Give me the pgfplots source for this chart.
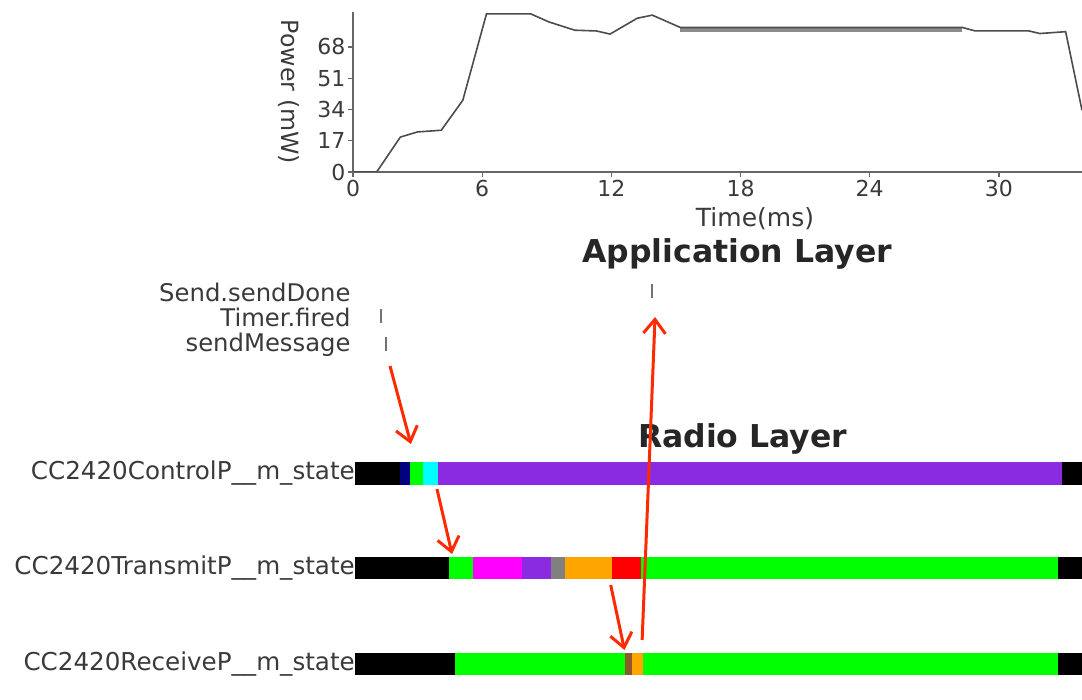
\documentclass[border=0pt]{standalone}
\usepackage{pgfplots}
\pgfplotsset{compat=1.18}
\usepackage{fontspec}
\setmainfont{DejaVu Sans}
\usetikzlibrary{arrows.meta}
\definecolor{arr}{HTML}{FF2A00}
\definecolor{bviolet}{HTML}{8A2BE2}
\definecolor{lime}{HTML}{00FF00}
\definecolor{navyc}{HTML}{000080}
\definecolor{orangec}{HTML}{FFA500}
\definecolor{cyanc}{HTML}{00FFFF}
\definecolor{magc}{HTML}{FF00FF}
\definecolor{redc}{HTML}{FF0000}
\definecolor{grayc}{HTML}{808080}
\definecolor{brownc}{HTML}{8B5A2B}
\definecolor{txt}{HTML}{3A3A3A}
\begin{document}
\begin{tikzpicture}[x=1pt,y=1pt]
\path[use as bounding box] (0,0) rectangle (1082,-700);
% ---------------- power plot ----------------
\begin{axis}[
  at={(353pt,-172pt)}, anchor=south west,
  scale only axis, width=729pt, height=160pt,
  xmin=0, xmax=33.86, ymin=0, ymax=87,
  axis lines=left, axis line style={-, draw=black!60, line width=1.8pt},
  xtick={0,6,...,30}, ytick={0,17,34,51,68},
  tick align=outside, major tick length=5pt,
  tick style={black!60, line width=1.2pt},
  ticklabel style={font=\fontsize{22}{26}\selectfont, text=txt},
  /pgf/number format/assume math mode=true,
  xticklabel style={yshift=0pt},
  yticklabel style={xshift=1pt},
]
\addplot[fill=black!45, draw=none] coordinates {(15.2,76.0) (28.3,76.0) (28.3,79.0) (15.2,79.0)};
\addplot[black!70, line width=1.6pt] coordinates {
(0,0) (1.1,0) (2.2,19) (3.0,21.8) (4.1,22.7) (5.1,39) (6.2,86) (8.25,86)
(9.1,81.6) (10.3,77.1) (11.3,76.7) (11.94,75.0) (13.2,83.6) (13.9,85.3)
(15.2,78.6) (28.3,78.6) (28.9,76.7) (31.4,76.7) (31.9,75.3) (33.1,76.3) (33.86,33.6)};
\end{axis}
\node[text=txt, font=\fontsize{25}{28}\selectfont] at (755,-219) {Time(ms)};
\node[text=txt, font=\fontsize{23.7}{26}\selectfont, rotate=-90] at (289,-92) {Power (mW)};
% ---------------- application + radio layers ----------------
\begin{axis}[
  at={(353pt,-230pt)}, anchor=north west,
  scale only axis, width=729pt, height=470pt,
  xmin=0, xmax=33.86, ymin=230, ymax=700, y dir=reverse,
  hide axis, clip=false,
]
% titles
\node[text=black!85, font=\bfseries\fontsize{31.5}{36}\selectfont] at (axis cs:17.84,254) {Application Layer};
\node[text=black!85, font=\bfseries\fontsize{31.5}{36}\selectfont] at (axis cs:18.1,439) {Radio Layer};
% application events
\node[anchor=east, text=txt, font=\fontsize{24.3}{28}\selectfont] at (axis cs:0.05,292) {Send.sendDone};
\node[anchor=east, text=txt, font=\fontsize{24.3}{28}\selectfont] at (axis cs:0.05,317) {Timer.fired};
\node[anchor=east, text=txt, font=\fontsize{24.3}{28}\selectfont] at (axis cs:0.05,345) {sendMessage};
\addplot[only marks, mark=|, mark size=7pt, mark options={draw=black!55, line width=2.2pt}] coordinates {(13.9,291) (1.3,316) (1.53,344)};
% row labels
\node[anchor=east, text=txt, font=\fontsize{24.6}{28}\selectfont] at (axis cs:0.25,473.5) {CC2420ControlP\_\_m\_state};
\node[anchor=east, text=txt, font=\fontsize{24.6}{28}\selectfont] at (axis cs:0.25,568) {CC2420TransmitP\_\_m\_state};
\node[anchor=east, text=txt, font=\fontsize{24.6}{28}\selectfont] at (axis cs:0.25,664) {CC2420ReceiveP\_\_m\_state};
% row 1: ControlP
\addplot[black, line width=23pt] coordinates {(0.1,473.5) (2.18,473.5)};
\addplot[navyc, line width=23pt] coordinates {(2.18,473.5) (2.65,473.5)};
\addplot[lime, line width=23pt] coordinates {(2.65,473.5) (3.25,473.5)};
\addplot[cyanc, line width=23pt] coordinates {(3.25,473.5) (3.95,473.5)};
\addplot[bviolet, line width=23pt] coordinates {(3.95,473.5) (32.93,473.5)};
\addplot[black, line width=23pt] coordinates {(32.93,473.5) (33.86,473.5)};
% row 2: TransmitP
\addplot[black, line width=22pt] coordinates {(0.1,568) (4.46,568)};
\addplot[lime, line width=22pt] coordinates {(4.46,568) (5.57,568)};
\addplot[magc, line width=22pt] coordinates {(5.57,568) (7.85,568)};
\addplot[bviolet, line width=22pt] coordinates {(7.85,568) (9.2,568)};
\addplot[grayc, line width=22pt] coordinates {(9.2,568) (9.85,568)};
\addplot[orangec, line width=22pt] coordinates {(9.85,568) (12.03,568)};
\addplot[redc, line width=22pt] coordinates {(12.03,568) (13.38,568)};
\addplot[lime, line width=22pt] coordinates {(13.38,568) (32.74,568)};
\addplot[black, line width=22pt] coordinates {(32.74,568) (33.86,568)};
% row 3: ReceiveP
\addplot[black, line width=22pt] coordinates {(0.1,664) (4.74,664)};
\addplot[lime, line width=22pt] coordinates {(4.74,664) (12.63,664)};
\addplot[brownc, line width=22pt] coordinates {(12.63,664) (12.96,664)};
\addplot[orangec, line width=22pt] coordinates {(12.96,664) (13.47,664)};
\addplot[lime, line width=22pt] coordinates {(13.47,664) (32.74,664)};
\addplot[black, line width=22pt] coordinates {(32.74,664) (33.86,664)};
% red annotation arrows
\begin{scope}[arr, line width=3pt, -{Straight Barb[length=14pt,width=22pt,line width=3pt]}]
\draw (axis cs:1.72,366) -- (axis cs:2.69,444);
\draw (axis cs:3.9,489) -- (axis cs:4.6,554);
\draw (axis cs:11.97,585) -- (axis cs:12.61,650);
\draw (axis cs:13.43,640) -- (axis cs:14.03,317);
\end{scope}
\end{axis}
\end{tikzpicture}
\end{document}
